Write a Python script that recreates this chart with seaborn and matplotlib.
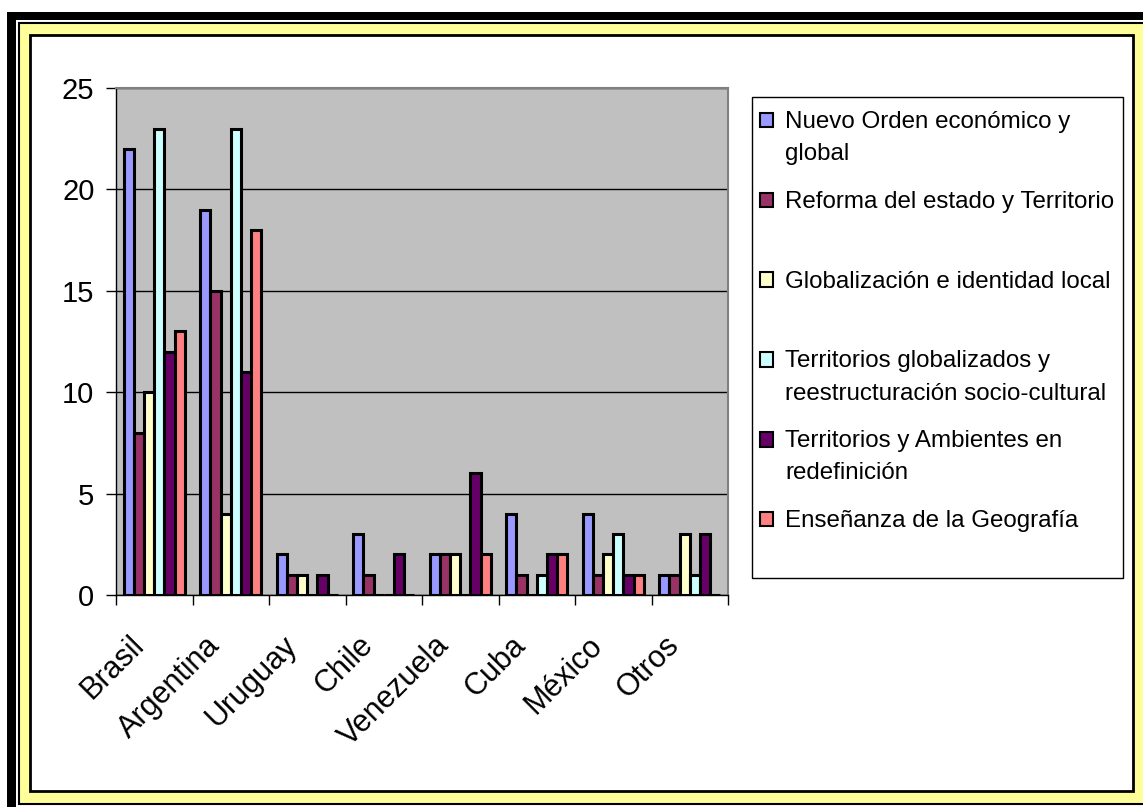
"""
Temas por país: gráfico de barras agrupadas al estilo Excel clásico.
"""

import pandas as pd
import numpy as np
import seaborn as sns
import matplotlib.pyplot as plt
from matplotlib.patches import Rectangle, Patch
from matplotlib.transforms import ScaledTranslation

# -----------------------------
# Data
# -----------------------------
paises = ["Brasil", "Argentina", "Uruguay", "Chile", "Venezuela", "Cuba", "México", "Otros"]

temas = [
    "Nuevo Orden económico y\nglobal",
    "Reforma del estado y Territorio\n",
    "Globalización e identidad local\n",
    "Territorios globalizados y\nreestructuración socio-cultural",
    "Territorios y Ambientes en\nredefinición",
    "Enseñanza de la Geografía\n",
]

nuevo_orden = [22, 19, 2, 3, 2, 4, 4, 1]
reforma_estado = [8, 15, 1, 1, 2, 1, 1, 1]
globalizacion = [10, 4, 1, 0, 2, 0, 2, 3]
territorios_glob = [23, 23, 0, 0, 0, 1, 3, 1]
territorios_amb = [12, 11, 1, 2, 6, 2, 1, 3]
ensenanza = [13, 18, 0, 0, 2, 2, 1, 0]

series = [nuevo_orden, reforma_estado, globalizacion,
          territorios_glob, territorios_amb, ensenanza]

colores = ["#9999FF", "#993366", "#FFFFCC", "#CCFFFF", "#660066", "#FF8080"]

yticks = [0, 5, 10, 15, 20, 25]

# long format for seaborn
rows = []
for tema, vals in zip(temas, series):
    for pais, v in zip(paises, vals):
        rows.append({"pais": pais, "tema": tema, "valor": v})
df = pd.DataFrame(rows)

# -----------------------------
# Figure and frame
# -----------------------------
W, H = 1143, 807
plt.rcParams['font.family'] = ['Liberation Sans', 'DejaVu Sans']
fig = plt.figure(figsize=(W / 100, H / 100), dpi=100, facecolor="white")


def px_rect(x0, y0, x1, y1, z=-5, **kw):
    # pixel box (top-left origin) -> figure rectangle
    r = Rectangle((x0 / W, 1 - y1 / H), (x1 - x0) / W, (y1 - y0) / H,
                  transform=fig.transFigure, zorder=z, **kw)
    fig.patches.append(r)
    return r


px_rect(7, 12, W + 5, H + 5, facecolor="black", edgecolor="none")
px_rect(16, 20, W + 5, H + 5, facecolor="white", edgecolor="none")
px_rect(18.5, 22.5, W + 5, 804, facecolor="#FFFF99", edgecolor="black", linewidth=1.5)
px_rect(30, 35, 1133, 791, facecolor="white", edgecolor="black", linewidth=2)
# legend box
px_rect(752, 97, 1123, 578, facecolor="white", edgecolor="black", linewidth=1)

# -----------------------------
# Bars
# -----------------------------
ax = fig.add_axes([116 / W, 1 - 595 / H, (728 - 116) / W, (595 - 88) / H])
ax.set_facecolor("#C0C0C0")

sns.barplot(data=df, x="pais", y="valor", hue="tema", palette=colores,
            saturation=1, width=0.8, ax=ax, legend=False,
            errorbar=None, zorder=3)
for bar in ax.patches:
    bar.set_edgecolor("black")
    bar.set_linewidth(2.2)

ax.set_ylim(0, 25)
ax.set_xlim(-0.5, len(paises) - 0.5)
ax.set_yticks(yticks)
ax.set_yticklabels([str(t) for t in yticks], fontsize=21)
ax.tick_params(axis="y", length=7.5, width=1, pad=8, color="black")

ax.set_xticks(range(len(paises)))
ax.set_xticklabels(paises, fontsize=22, rotation=45, ha="right",
                   rotation_mode="anchor", va="center")
ax.tick_params(axis="x", length=0, pad=33)
ax.set_xticks(np.arange(-0.5, len(paises)), minor=True)
ax.tick_params(axis="x", which="minor", length=7, width=1, color="black")
shift = ScaledTranslation(-15 / 100, 0, fig.dpi_scale_trans)
for lab in ax.get_xticklabels():
    lab.set_transform(lab.get_transform() + shift)

ax.set_xlabel("")
ax.set_ylabel("")
ax.yaxis.grid(True, color="black", linewidth=1, zorder=1)
ax.set_axisbelow(True)

for side in ["top", "right"]:
    ax.spines[side].set_color("#808080")
    ax.spines[side].set_linewidth(1.5)
for side in ["left", "bottom"]:
    ax.spines[side].set_color("black")
    ax.spines[side].set_linewidth(1)

# -----------------------------
# Legend
# -----------------------------
fs_leg = 17.4
ls_leg = 1.6
handles = [Patch(facecolor=c, edgecolor="black", linewidth=1.5) for c in colores]
leg = fig.legend(handles, temas, loc="upper left",
                 bbox_to_anchor=(760 / W, 1 - 111 / H),
                 bbox_transform=fig.transFigure, borderaxespad=0,
                 fontsize=fs_leg, frameon=False, borderpad=0,
                 handlelength=0.55, handleheight=0.55, handletextpad=0.5,
                 labelspacing=1.06)
for t in leg.get_texts():
    t.set_linespacing(ls_leg)
for h in leg.legend_handles:
    h.set_y(h.get_y() + 13.0)

fig.savefig("out.png", dpi=100, facecolor=fig.get_facecolor())
